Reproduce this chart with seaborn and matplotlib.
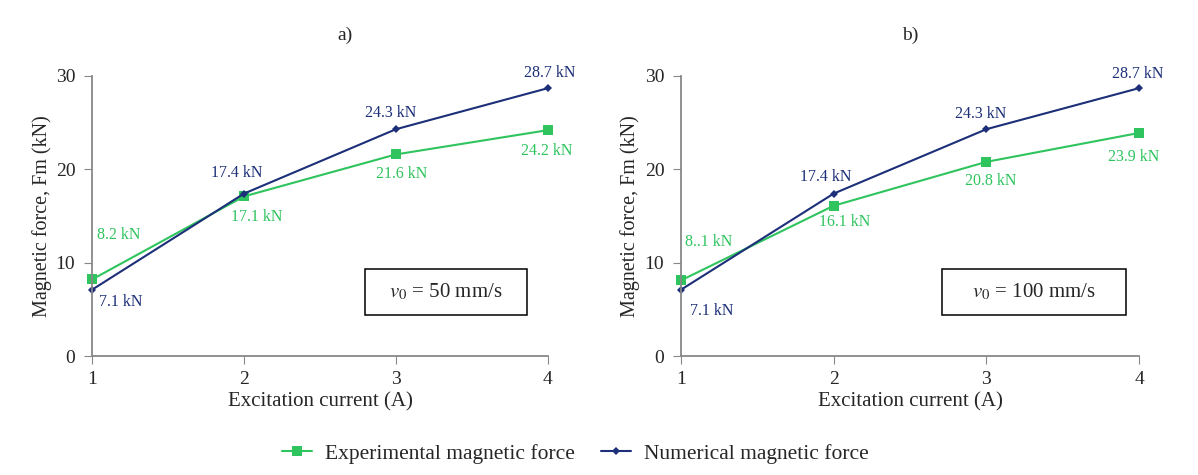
import pandas as pd
import numpy as np
import matplotlib
matplotlib.use("Agg")
import matplotlib.pyplot as plt
from matplotlib.patches import Rectangle
import seaborn as sns

# ========== Data ==========
current = [1, 2, 3, 4]
exp_50 = [8.2, 17.1, 21.6, 24.2]
num_50 = [7.1, 17.4, 24.3, 28.7]
exp_100 = [8.1, 16.1, 20.8, 23.9]
num_100 = [7.1, 17.4, 24.3, 28.7]
exp_labels_100 = ["8..1 kN", "16.1 kN", "20.8 kN", "23.9 kN"]

EXP = "Experimental magnetic force"
NUM = "Numerical magnetic force"
GREEN = "#2fc45e"
NAVY = "#1c2f78"

sns.set_style("white")
plt.rcParams['font.family'] = ['Liberation Serif', 'DejaVu Serif']
plt.rcParams['mathtext.fontset'] = 'stix'


def make_df(exp, num):
    return pd.DataFrame({
        "current": current * 2,
        "force": exp + num,
        "series": [EXP] * 4 + [NUM] * 4,
    })


fig = plt.figure(figsize=(11.98, 4.75), dpi=100)
ax1 = fig.add_axes([0.0768, 0.2505, 0.3806, 0.5895])
ax2 = fig.add_axes([0.5684, 0.2505, 0.3824, 0.5895])

# label offsets in points (dx, dy) per panel
off_a = dict(exp=[(19, 32), (9, -15), (4, -14), (-1, -15)],
             num=[(21, -9), (-5, 15), (-4, 12), (1, 11)])
off_b = dict(exp=[(20, 28), (8, -12), (3, -14), (-4, -17)],
             num=[(22, -15), (-6, 12), (-4, 11), (-1, 10)])

panels = [
    (ax1, exp_50, num_50, [f"{v} kN" for v in exp_50], "a)", 0.555,
     "$v_0$ = 50 mm/s", (0.599, 0.146, 0.355, 0.164), off_a),
    (ax2, exp_100, num_100, exp_labels_100, "b)", 0.5,
     "$v_0$ = 100 mm/s", (0.570, 0.146, 0.402, 0.164), off_b),
]

for ax, exp, num, exp_txt, title, tx, box_txt, box, off in panels:
    df = make_df(exp, num)
    sns.lineplot(data=df, x="current", y="force", hue="series", style="series",
                 markers={EXP: "s", NUM: "D"}, dashes=False,
                 palette={EXP: GREEN, NUM: NAVY}, markersize=6.5,
                 markeredgewidth=0, linewidth=1.5, ax=ax, legend=False)
    # smaller diamond for numerical series
    ax.lines[1].set_markersize(4.5)

    for i, (x, y) in enumerate(zip(current, exp)):
        ax.annotate(exp_txt[i], (x, y), xytext=off["exp"][i], textcoords="offset points",
                    ha="center", va="center", color=GREEN, fontsize=11.5)
    for i, (x, y) in enumerate(zip(current, num)):
        ax.annotate(f"{y} kN", (x, y), xytext=off["num"][i], textcoords="offset points",
                    ha="center", va="center", color=NAVY, fontsize=11.5)

    ax.set_xlim(1, 4)
    ax.set_ylim(0, 30)
    ax.set_xticks(current)
    ax.set_yticks([0, 10, 20, 30])
    ax.set_xlabel("Excitation current (A)", fontsize=15, labelpad=3)
    ax.set_ylabel("Magnetic force, Fm (kN)", fontsize=14.5, labelpad=3)
    ax.set_title(title, fontsize=14, x=tx, pad=26)
    ax.tick_params(axis="both", labelsize=14, length=6, color="#888888", direction="out",
                   left=True, bottom=True)
    ax.tick_params(axis="x", pad=5)
    ax.tick_params(axis="y", pad=6)
    for side in ["top", "right"]:
        ax.spines[side].set_visible(False)
    for side in ["left", "bottom"]:
        ax.spines[side].set_color("#888888")
        ax.spines[side].set_linewidth(1.3)
    for ln in ax.lines:
        ln.set_clip_on(False)

    bx, by, bw, bh = box
    ax.add_patch(Rectangle((bx, by), bw, bh, transform=ax.transAxes, fill=True,
                           fc="white", ec="black", lw=1.1, zorder=3))
    ax.text(bx + bw / 2, by + bh / 2, box_txt, transform=ax.transAxes, ha="center",
            va="center", fontsize=15, zorder=4)

handles = [
    plt.Line2D([], [], color=GREEN, marker="s", markersize=6.5, markeredgewidth=0, lw=1.5),
    plt.Line2D([], [], color=NAVY, marker="D", markersize=4.5, markeredgewidth=0, lw=1.5),
]
fig.legend(handles, [EXP, NUM], loc="center", bbox_to_anchor=(0.48, 0.045), ncol=2,
           frameon=False, fontsize=15.5, handlelength=1.4, handletextpad=0.6,
           columnspacing=1.2)

fig.savefig("out.png", dpi=100)
